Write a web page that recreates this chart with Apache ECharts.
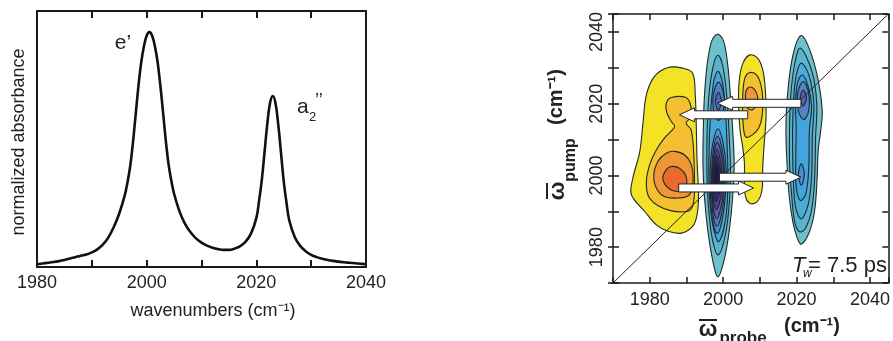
<!DOCTYPE html>
<html>
<head>
<meta charset="utf-8">
<script src="https://cdn.jsdelivr.net/npm/echarts@6.0.0/dist/echarts.min.js"></script>
<style>
  html, body { margin: 0; padding: 0; background: #ffffff; }
  #chart { width: 893px; height: 341px; }
</style>
</head>
<body>
<div id="chart"></div>
<script>
// ---------- Linear FTIR spectrum (left panel) ----------
const ftirWavenumbers = [
  1980, 1981, 1982, 1983, 1984, 1985, 1986, 1987, 1988, 1989,
  1990, 1991, 1992, 1993, 1994, 1995, 1996, 1996.5, 1997, 1997.5,
  1998, 1998.5, 1999, 1999.5, 2000, 2000.5, 2001, 2001.5, 2002, 2002.5,
  2003, 2003.5, 2004, 2004.5, 2005, 2006, 2007, 2008, 2009,
  2010, 2011, 2012, 2013, 2014, 2015, 2016, 2017, 2018, 2019,
  2020, 2020.5, 2021, 2021.5, 2022, 2022.5, 2023, 2023.5, 2024, 2024.5,
  2025, 2025.5, 2026, 2027, 2028, 2029,
  2030, 2031, 2032, 2033, 2034, 2035, 2036, 2037, 2038, 2039, 2040
];
const ftirAbsorbance = [
  0.012, 0.015, 0.018, 0.021, 0.025, 0.030, 0.036, 0.042, 0.048, 0.053,
  0.062, 0.075, 0.095, 0.125, 0.170, 0.228, 0.305, 0.360, 0.430, 0.530,
  0.650, 0.770, 0.870, 0.940, 0.985, 1.000, 0.985, 0.940, 0.872, 0.772,
  0.655, 0.536, 0.436, 0.367, 0.312, 0.236, 0.184, 0.148, 0.122,
  0.104, 0.091, 0.082, 0.076, 0.073, 0.073, 0.078, 0.088, 0.107, 0.141,
  0.208, 0.282, 0.371, 0.490, 0.609, 0.698, 0.728, 0.697, 0.606, 0.486,
  0.365, 0.274, 0.199, 0.128, 0.090, 0.067,
  0.052, 0.042, 0.035, 0.030, 0.026, 0.023, 0.020, 0.018, 0.016, 0.014, 0.012
];
const ftirLabelTicks = [1980, 2000, 2020, 2040];

// ---------- 2D IR spectrum (right panel), contour rings as [probe, pump] ----------
const twoDLabelTicks = [1980, 2000, 2020, 2040];

// positive (excited-state) band below the e' bleach
const esaLowRings = [
  [[1981.3,2027.6],[1985.0,2030.1],[1989.0,2029.9],[1991.7,2028.5],[1992.4,2022.5],[1992.7,2013.2],
   [1992.9,2003.9],[1993.3,1994.6],[1992.9,1989.0],[1991.7,1985.8],[1988.6,1983.9],[1985.0,1984.4],
   [1981.8,1986.2],[1978.6,1990.0],[1975.0,1994.6],[1975.4,1999.2],[1977.3,2006.7],[1978.2,2015.0],[1979.1,2022.5]],
  [[1985.9,2021.7],[1989.9,2021.7],[1991.1,2019.7],[1991.3,2016.4],[1989.9,2014.6],[1991.3,2012.7],
   [1992.0,2005.7],[1992.2,1996.5],[1991.8,1991.8],[1990.4,1990.0],[1985.9,1990.1],[1982.2,1991.6],
   [1979.7,1994.1],[1979.1,1998.3],[1980.0,2003.0],[1981.8,2007.1],[1984.0,2010.4],[1986.8,2013.6],
   [1985.9,2015.0],[1984.7,2017.4],[1984.5,2020.1]],
  [[1986.8,2006.7],[1989.5,2005.7],[1991.3,2003.0],[1991.8,1998.3],[1990.8,1994.6],[1987.7,1993.7],
   [1984.0,1994.1],[1981.8,1996.5],[1981.1,2000.2],[1982.2,2003.9],[1984.5,2006.2]],
  [[1985.9,2002.5],[1988.1,2002.0],[1989.9,1999.7],[1989.7,1996.5],[1987.7,1995.5],[1985.0,1996.5],
   [1983.6,1999.1],[1984.5,2001.6]]
];
const esaLowColors = ['#f3e225', '#f6bf30', '#f19636', '#ea6a2c'];

// positive band between the two bleaches
const esaMidRings = [
  [[2007.3,2033.6],[2009.4,2032.7],[2010.8,2029.4],[2011.5,2023.8],[2011.7,2016.4],[2011.2,2009.0],
   [2010.8,2002.5],[2010.6,1996.0],[2009.4,1992.8],[2007.6,1992.1],[2006.2,1993.7],[2005.8,1997.9],
   [2005.8,2003.4],[2005.3,2008.1],[2004.6,2012.7],[2004.2,2020.1],[2004.4,2026.6],[2005.4,2031.3]],
  [[2007.3,2028.7],[2009.1,2028.0],[2010.3,2025.2],[2010.8,2021.1],[2010.6,2016.4],[2009.7,2013.2],
   [2008.0,2011.3],[2006.2,2010.7],[2005.5,2013.6],[2005.3,2019.2],[2005.5,2024.8],[2006.1,2027.6]],
  [[2007.1,2024.6],[2008.5,2024.0],[2009.4,2022.0],[2009.1,2019.7],[2008.05,2018.3],[2006.7,2018.7],
   [2006.1,2021.1],[2006.2,2023.4]]
];
const esaMidColors = ['#f3e225', '#f6bf30', '#f19636'];

// e' bleach (negative) column at probe ~ 1998
const bleachERings = [
  [[1998.5,2039.4],[2000.1,2037.5],[2001.2,2031.3],[2002.0,2022.0],[2002.6,2012.7],[2003.0,2003.4],
   [2002.6,1994.1],[2001.7,1984.9],[2000.3,1976.5],[1998.6,1971.7],[1997.3,1975.6],[1995.8,1984.9],
   [1994.9,1994.1],[1994.5,2003.4],[1994.6,2012.7],[1994.9,2022.0],[1995.7,2031.3],[1996.9,2037.5]],
  [[1998.6,2033.5],[1999.9,2030.5],[2001.0,2022.0],[2001.7,2010.0],[2002.0,2000.0],[2001.5,1990.0],
   [2000.3,1982.0],[1998.6,1977.8],[1997.1,1982.0],[1996.1,1990.0],[1995.6,2000.0],[1995.6,2010.0],
   [1996.1,2022.0],[1997.3,2030.5]],
  [[1998.6,2029.0],[1999.8,2026.0],[2000.6,2018.0],[2001.1,2008.0],[2001.3,1998.0],[2000.7,1988.0],
   [1998.8,1981.5],[1997.2,1986.0],[1996.3,1994.0],[1996.1,2004.0],[1996.5,2016.0],[1997.4,2026.0]],
  [[1998.7,2026.0],[1999.9,2023.8],[2000.3,2020.5],[1999.8,2017.0],[1998.7,2015.3],[1997.6,2017.0],
   [1997.2,2020.5],[1997.6,2023.8]],
  [[1998.7,2023.2],[1999.5,2020.6],[1998.7,2018.2],[1997.9,2020.6]],
  [[1998.6,2013.0],[2000.0,2009.0],[2000.8,2002.0],[2000.5,1993.0],[1999.5,1986.5],[1998.4,1983.8],
   [1997.3,1986.5],[1996.6,1993.0],[1996.5,2002.0],[1997.2,2009.0]],
  [[1998.5,2011.0],[1999.7,2007.5],[2000.4,2001.5],[2000.2,1993.5],[1999.3,1988.0],[1998.3,1985.8],
   [1997.4,1988.0],[1996.9,1993.5],[1996.9,2001.5],[1997.4,2007.5]],
  [[1998.4,2009.2],[1999.5,2006.0],[2000.1,2001.0],[1999.9,1994.0],[1999.1,1989.8],[1998.3,1988.0],
   [1997.5,1989.8],[1997.1,1994.0],[1997.1,2001.0],[1997.5,2006.0]],
  [[1998.3,2007.3],[1999.2,2004.5],[1999.7,2000.5],[1999.5,1995.0],[1998.9,1992.0],[1998.2,1990.5],
   [1997.5,1992.0],[1997.2,1995.0],[1997.2,2000.5],[1997.6,2004.5]],
  [[1998.2,2005.5],[1999.0,2003.0],[1999.4,2000.0],[1999.2,1996.0],[1998.6,1993.9],[1998.1,1992.8],
   [1997.6,1993.9],[1997.3,1996.0],[1997.3,2000.0],[1997.6,2003.0]],
  [[1998.1,2003.8],[1998.8,2001.5],[1999.0,1999.0],[1998.6,1996.3],[1998.0,1995.2],[1997.5,1996.3],
   [1997.4,1999.0],[1997.6,2001.5]]
];
const bleachEColors = ['#6ec1ca', '#5bb4cf', '#47a6d9', '#4d80c7', '#5565b2',
                       '#4b90d1', '#5474c0', '#575cad', '#4a3f95', '#34287a', '#22184f'];

// a2'' bleach (negative) column at probe ~ 2021
const bleachA2Rings = [
  [[2021.2,2039.0],[2023.6,2035.0],[2025.8,2027.0],[2027.0,2018.0],[2026.6,2012.7],[2025.9,2007.0],
   [2025.6,1999.0],[2024.9,1990.0],[2023.4,1984.0],[2021.3,1980.8],[2020.2,1982.5],[2019.0,1987.0],
   [2018.0,1994.1],[2017.4,2003.4],[2017.1,2012.7],[2017.5,2022.0],[2018.9,2033.0]],
  [[2021.0,2035.5],[2024.2,2029.0],[2025.5,2020.1],[2025.2,2010.9],[2024.9,1998.8],[2024.1,1990.4],
   [2022.4,1985.2],[2020.8,1984.3],[2019.5,1987.0],[2018.7,1994.1],[2018.1,2003.4],[2018.1,2012.7],
   [2018.4,2022.0],[2019.4,2030.5]],
  [[2021.3,2031.3],[2023.4,2027.8],[2024.7,2020.1],[2024.3,2010.9],[2024.1,1999.7],[2023.2,1992.0],
   [2021.3,1987.9],[2019.7,1991.2],[2019.1,1999.7],[2018.9,2010.9],[2019.2,2021.1],[2019.9,2027.8]],
  [[2021.5,2028.0],[2023.1,2025.0],[2024.1,2019.2],[2023.5,2012.7],[2023.3,2001.6],[2022.5,1994.8],
   [2021.0,1993.0],[2019.9,1996.9],[2019.8,2005.3],[2019.9,2013.6],[2019.7,2020.1],[2020.2,2025.5]],
  [[2021.8,2026.2],[2023.3,2023.0],[2023.3,2018.0],[2021.9,2015.5],[2020.5,2018.0],[2020.3,2023.0]],
  [[2021.8,2023.8],[2022.7,2021.5],[2021.8,2019.3],[2021.0,2021.5]],
  [[2021.3,2003.2],[2022.1,2000.4],[2021.3,1997.2],[2020.5,2000.4]]
];
const bleachA2Colors = ['#6ec1ca', '#5bb4cf', '#4eabd5', '#42a5dc', '#5a80c5', '#5b60ad', '#4c8fd0'];

// population / coherence transfer arrows: pump position, probe start, probe end
const arrowPump = [2020.1, 2016.9, 1996.5, 1999.5];
const arrowFrom = [2021.2, 2006.7, 1987.9, 1999.0];
const arrowTo   = [1998.5, 1988.1, 2008.3, 2021.2];

const diagonalLine = [[1970, 1970], [2045, 2045]];

// ---------- chart ----------
const FONT = '"Liberation Sans", Arial, Helvetica, sans-serif';
const INK = '#1a1a1a';

function ringSeries(rings, colors, z) {
  return {
    type: 'custom',
    xAxisIndex: 2,
    yAxisIndex: 2,
    z: z,
    silent: true,
    clip: true,
    data: rings.map((r, i) => [r[0][0], r[0][1], i]),
    encode: { x: 0, y: 1 },
    renderItem: function (params, api) {
      const idx = api.value(2);
      return {
        type: 'polygon',
        z2: idx,
        shape: { points: rings[idx].map(p => api.coord(p)), smooth: 0.35 },
        style: { fill: colors[idx], stroke: '#1f2a2f', lineWidth: 1.1 }
      };
    }
  };
}

const arrowSeries = {
  type: 'custom',
  xAxisIndex: 2,
  yAxisIndex: 2,
  z: 6,
  silent: true,
  data: arrowPump.map((p, i) => [arrowFrom[i], p, arrowTo[i]]),
  encode: { x: 0, y: 1 },
  renderItem: function (params, api) {
    const a = api.coord([api.value(0), api.value(1)]);
    const b = api.coord([api.value(2), api.value(1)]);
    const dir = b[0] > a[0] ? 1 : -1;
    const h = 4, H = 7, L = 15, y = a[1];
    const neck = b[0] - dir * L;
    return {
      type: 'polygon',
      shape: {
        points: [
          [a[0], y - h], [neck, y - h], [neck, y - H], [b[0], y],
          [neck, y + H], [neck, y + h], [a[0], y + h]
        ]
      },
      style: { fill: '#ffffff', stroke: '#222222', lineWidth: 1 }
    };
  }
};

function tickLabel(list) {
  return function (v) {
    const r = Math.round(v);
    return (Math.abs(v - r) < 1e-6 && list.indexOf(r) >= 0) ? String(r) : '';
  };
}

function txt(x, y, text, font, align, rotation) {
  return {
    type: 'text', x: x, y: y, rotation: rotation || 0, silent: true,
    style: { text: text, font: font, fill: '#222', align: align || 'center', verticalAlign: 'middle',
             textAlign: align || 'center', textVerticalAlign: 'middle' }
  };
}

const chart = echarts.init(document.getElementById('chart'), null, { renderer: 'canvas' });

const option = {
  backgroundColor: '#ffffff',
  animation: false,
  grid: [
    { left: 37, top: 11, width: 329, height: 256, containLabel: false },
    { left: 613, top: 14, width: 277, height: 269, containLabel: false }
  ],
  xAxis: [
    {
      gridIndex: 0, type: 'value', position: 'bottom', min: 1980, max: 2040, interval: 10,
      axisLine: { show: true, onZero: false, lineStyle: { color: INK, width: 2 } },
      axisTick: { show: true, inside: true, length: 7, lineStyle: { color: INK, width: 2 } },
      axisLabel: { color: '#222', fontFamily: FONT, fontSize: 18, margin: 7, formatter: tickLabel(ftirLabelTicks) },
      splitLine: { show: false }
    },
    {
      gridIndex: 0, type: 'value', position: 'top', min: 1980, max: 2040, interval: 10,
      axisLine: { show: true, onZero: false, lineStyle: { color: INK, width: 2 } },
      axisTick: { show: true, inside: true, length: 7, lineStyle: { color: INK, width: 2 } },
      axisLabel: { show: false }, splitLine: { show: false }
    },
    {
      gridIndex: 1, type: 'value', position: 'bottom', min: 1970, max: 2045, interval: 10,
      axisLine: { show: true, onZero: false, lineStyle: { color: INK, width: 1.5 } },
      axisTick: { show: true, inside: true, length: 6, lineStyle: { color: INK, width: 1.5 } },
      axisLabel: { color: '#222', fontFamily: FONT, fontSize: 18, margin: 8, formatter: tickLabel(twoDLabelTicks) },
      splitLine: { show: false }
    },
    {
      gridIndex: 1, type: 'value', position: 'top', min: 1970, max: 2045, interval: 10,
      axisLine: { show: true, onZero: false, lineStyle: { color: INK, width: 1.5 } },
      axisTick: { show: true, inside: true, length: 6, lineStyle: { color: INK, width: 1.5 } },
      axisLabel: { show: false }, splitLine: { show: false }
    }
  ],
  yAxis: [
    {
      gridIndex: 0, type: 'value', position: 'left', min: 0, max: 1.09,
      axisLine: { show: true, onZero: false, lineStyle: { color: INK, width: 2 } },
      axisTick: { show: false }, axisLabel: { show: false }, splitLine: { show: false }
    },
    {
      gridIndex: 0, type: 'value', position: 'right', min: 0, max: 1.09,
      axisLine: { show: true, onZero: false, lineStyle: { color: INK, width: 2 } },
      axisTick: { show: false }, axisLabel: { show: false }, splitLine: { show: false }
    },
    {
      gridIndex: 1, type: 'value', position: 'left', min: 1970, max: 2045, interval: 10,
      axisLine: { show: true, onZero: false, lineStyle: { color: INK, width: 1.5 } },
      axisTick: { show: true, inside: false, length: 5, lineStyle: { color: INK, width: 1.5 } },
      axisLabel: { color: '#222', fontFamily: FONT, fontSize: 18, margin: 7, rotate: 90, formatter: tickLabel(twoDLabelTicks) },
      splitLine: { show: false }
    },
    {
      gridIndex: 1, type: 'value', position: 'right', min: 1970, max: 2045, interval: 10,
      axisLine: { show: true, onZero: false, lineStyle: { color: INK, width: 1.5 } },
      axisTick: { show: true, inside: true, length: 6, lineStyle: { color: INK, width: 1.5 } },
      axisLabel: { show: false }, splitLine: { show: false }
    },
    {
      gridIndex: 1, type: 'value', position: 'left', min: 1970, max: 2045, interval: 10,
      axisLine: { show: false },
      axisTick: { show: true, inside: true, length: 6, lineStyle: { color: INK, width: 1.5 } },
      axisLabel: { show: false }, splitLine: { show: false }
    }
  ],
  series: [
    {
      type: 'line', xAxisIndex: 0, yAxisIndex: 0,
      data: ftirWavenumbers.map((w, i) => [w, ftirAbsorbance[i]]),
      showSymbol: false, smooth: 0.4,
      lineStyle: { color: '#111', width: 2.6 }, silent: true
    },
    ringSeries(bleachERings, bleachEColors, 2),
    ringSeries(bleachA2Rings, bleachA2Colors, 2),
    ringSeries(esaLowRings, esaLowColors, 3),
    ringSeries(esaMidRings, esaMidColors, 3),
    {
      type: 'line', xAxisIndex: 2, yAxisIndex: 2, data: diagonalLine,
      showSymbol: false, z: 5, silent: true,
      lineStyle: { color: '#222', width: 1 }
    },
    arrowSeries
  ],
  graphic: [
    // left panel titles and band labels
    txt(19, 142, 'normalized absorbance', '18px ' + FONT, 'center', Math.PI / 2),
    txt(213, 311, 'wavenumbers (cm\u207B\u00B9)', '18px ' + FONT),
    txt(123, 43, 'e\u2019', '21px ' + FONT),
    txt(297, 107, 'a', '21px ' + FONT, 'left'),
    txt(309, 117, '2', '13px ' + FONT, 'left'),
    txt(315, 101, '\u2019\u2019', '18px ' + FONT, 'left'),

    // right panel axis titles (omega with an overbar)
    txt(558, 191, '\u03C9', 'bold 22px ' + FONT, 'center', Math.PI / 2),
    { type: 'line', silent: true, shape: { x1: 547, y1: 183, x2: 547, y2: 199 }, style: { stroke: '#222', lineWidth: 2 } },
    txt(571, 160, 'pump', 'bold 16px ' + FONT, 'center', Math.PI / 2),
    txt(556, 97, '(cm\u207B\u00B9)', 'bold 20px ' + FONT, 'center', Math.PI / 2),
    txt(708, 330, '\u03C9', 'bold 22px ' + FONT),
    { type: 'line', silent: true, shape: { x1: 699, y1: 320, x2: 717, y2: 320 }, style: { stroke: '#222', lineWidth: 2 } },
    txt(743, 338, 'probe', 'bold 17px ' + FONT),
    txt(812, 326, '(cm\u207B\u00B9)', 'bold 20px ' + FONT),

    // waiting time annotation
    txt(792, 266, 'T', 'italic 22px ' + FONT, 'left'),
    txt(803, 274, 'w', 'italic 12px ' + FONT, 'left'),
    txt(808, 266, '= 7.5 ps', '22px ' + FONT, 'left')
  ]
};

chart.setOption(option);
</script>
</body>
</html>
